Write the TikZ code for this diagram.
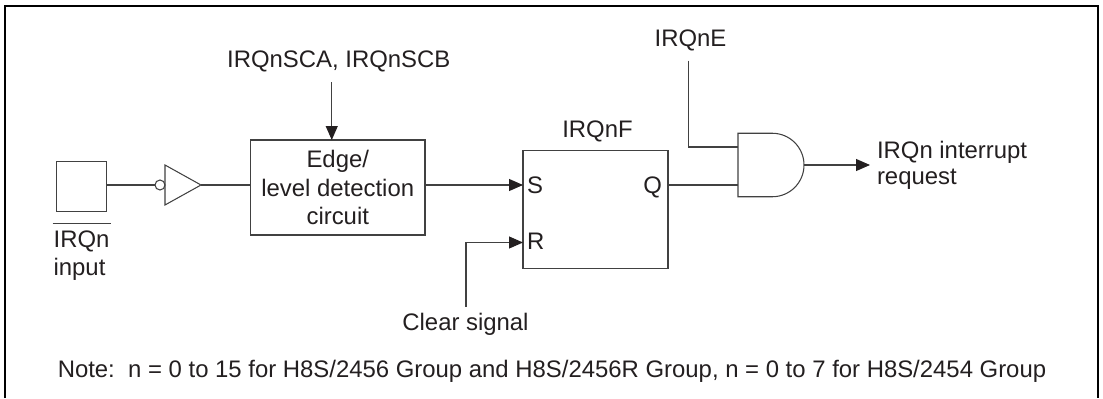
\documentclass[tikz,border=0pt]{standalone}
\usepackage{fontspec}
\setmainfont{Liberation Sans}
\definecolor{primary}{RGB}{35, 31, 32}
\definecolor{secondary}{RGB}{65, 65, 65}
\usetikzlibrary{shapes.geometric, arrows.meta, positioning}

\begin{document}
\begin{tikzpicture}[
			node distance=1cm,
			box/.style={rectangle, draw=secondary, line width=0.6pt, inner sep=0pt, outer sep=0pt, align=center},
			lbl/.style={inner sep=0pt, outer sep=0pt, text=primary, text height=9.8pt, text depth=0pt, align=left,
				font=\fontsize{13.6}{16}\selectfont},
			block/.style={inner sep=0pt, outer sep=0pt, text=primary, align=center, font=\fontsize{13.6}{16.3}\selectfont},
			wire/.style={draw=secondary, line width=0.6pt},
			line/.style={wire, -{Triangle[length=0.28cm, width=0.24cm, color=primary]}},
			frame/.style={draw=black, line width=1.3pt}
			]
			\useasboundingbox (0,0) rectangle (22.06,7.96);
			\coordinate (framesw) at (0.105,0);
			\coordinate (framene) at (21.96,7.84);
			\draw[frame] (framesw) |- (framene) -- (framene |- framesw);

			\node[box, minimum width=1cm, minimum height=1cm] (inbox) at (1.63,4.23) {};
			\node[box, circle, minimum size=0.2cm, right=0.97cm of inbox, yshift=0.03cm] (bubble) {};
			\node[box, isosceles triangle, isosceles triangle stretches, shape border rotate=0,
				minimum width=0.8cm, minimum height=0.72cm, right=0cm of bubble] (buffer) {};
			\node[block, draw=secondary, line width=0.6pt, minimum width=3.49cm, minimum height=1.9cm,
				right=0.99cm of buffer, yshift=-0.05cm] (detect) {Edge/\\level detection\\circuit};
			\node[box, minimum width=2.9cm, minimum height=2.36cm, right=1.96cm of detect, yshift=-0.44cm] (flag) {};
			\node[inner sep=0pt, outer sep=0pt, minimum width=1.32cm, minimum height=1.27cm,
				right=1.4cm of flag, yshift=0.89cm] (andgate) {};
			\draw[wire] (andgate.north west) -- ([xshift=-0.635cm]andgate.north east)
				arc[start angle=90, end angle=-90, radius=0.635cm] -- (andgate.south west) -- cycle;

			\coordinate (flagS) at ([yshift=-0.69cm]flag.north west);
			\coordinate (flagR) at ([yshift=-1.84cm]flag.north west);
			\coordinate (flagQ) at ([yshift=-0.69cm]flag.north east);
			\coordinate (enable) at ([yshift=0.36cm]andgate.west);
			\coordinate (out) at ([xshift=1.32cm]andgate.east);
			\coordinate (selectend) at ([xshift=-0.12cm,yshift=1.16cm]detect.north);

			\node[lbl, above=1.44cm of detect, xshift=0.02cm] (select) {IRQnSCA, IRQnSCB};
			\node[lbl, above=0.26cm of flag, xshift=0.04cm] (flagname) {IRQnF};
			\node[lbl, right=0.08cm of flagS] (setpin) {S};
			\node[lbl, right=0.08cm of flagR, yshift=0.04cm] (resetpin) {R};
			\node[lbl, left=0.12cm of flagQ] (qpin) {Q};
			\node[lbl] (irqe) at ([xshift=-0.95cm,yshift=2.55cm]andgate.west) {IRQnE};
			\node[block, align=left, font=\fontsize{13.6}{14.8}\selectfont, right=0.14cm of out] (request) {IRQn interrupt\\request};
			\node[lbl] (clear) at ([xshift=-1.15cm,yshift=-1.06cm]flag.south west) {Clear signal};
			\node[lbl, below=0.38cm of inbox] (irqn) {IRQn};
			\node[lbl, below right=0.22cm and 0cm of irqn.south west] (input) {input};
			\node[lbl] (note) at (11.04,0.58) {Note:\ \ n = 0 to 15 for H8S/2456 Group and H8S/2456R Group, n = 0 to 7 for H8S/2454 Group};

			\draw[wire] ([xshift=-0.02cm,yshift=0.14cm]irqn.north west) -- ([xshift=0.04cm,yshift=0.14cm]irqn.north east);
			\draw[wire] (bubble -| inbox.east) -- (bubble.west);
			\draw[wire] (buffer.east) -- (buffer.east -| detect.west);
			\draw[line] (selectend) -- (selectend |- detect.north);
			\draw[line] (flagS -| detect.east) -- (flagS);
			\draw[line] ([xshift=0.01cm,yshift=0.12cm]clear.north) |- (flagR);
			\draw[wire] (flagQ) -- (flagQ -| andgate.west);
			\draw[wire] ([xshift=-0.04cm,yshift=-0.29cm]irqe.south) |- (enable);
			\draw[line] (andgate.east) -- (out);
		\end{tikzpicture}
\end{document}
